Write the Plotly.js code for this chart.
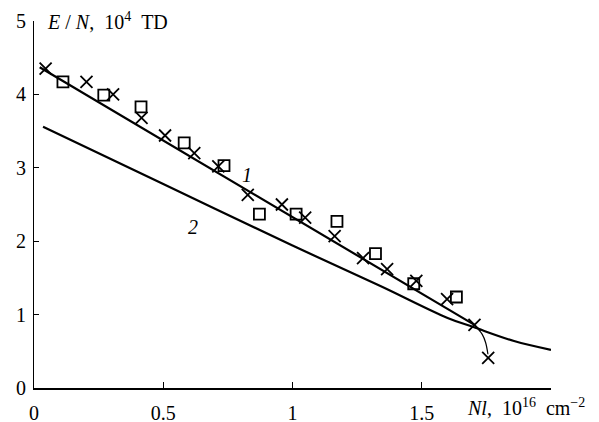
<!DOCTYPE html>
<html>
<head>
<meta charset="utf-8">
<script src="https://cdn.plot.ly/plotly-3.0.1.min.js"></script>
<style>html,body{margin:0;padding:0;background:#fff;}#chart{width:599px;height:422px;}</style>
</head>
<body>
<div id="chart"></div>
<script>
// Crosses (series x)
const crossX = [0.045, 0.203, 0.306, 0.416, 0.507, 0.620, 0.713, 0.827, 0.959, 1.049, 1.163, 1.273, 1.366, 1.479, 1.598, 1.704, 1.757];
const crossY = [4.35, 4.17, 4.00, 3.68, 3.44, 3.20, 3.02, 2.63, 2.50, 2.32, 2.07, 1.77, 1.62, 1.46, 1.21, 0.86, 0.41];
// Squares
const sqX = [0.112, 0.270, 0.414, 0.581, 0.735, 0.872, 1.014, 1.172, 1.321, 1.469, 1.634];
const sqY = [4.17, 3.99, 3.83, 3.34, 3.03, 2.37, 2.37, 2.27, 1.83, 1.42, 1.24];
// Curve 1 (main fit)
const line1X = [0.022, 1.704];
const line1Y = [4.37, 0.86];
// Curve 1 tail
const tailX = [1.704, 1.734, 1.747, 1.756];
const tailY = [0.86, 0.73, 0.62, 0.46];
// Curve 2
const line2X = [0.035, 0.5, 1.0, 1.34, 1.6, 1.7, 1.857, 2.0];
const line2Y = [3.56, 2.78, 1.94, 1.39, 0.955, 0.83, 0.64, 0.52];
// Ticks
const xTickVals = [0, 0.5, 1, 1.5, 2];
const xTickText = ["0", "0.5", "1", "1.5", ""];
const yTickVals = [0, 1, 2, 3, 4, 5];
const yTickText = ["0", "1", "2", "3", "4", "5"];

function F(sz) { return {family: "Liberation Serif", size: sz || 20, color: "#000000"}; }
const NB = "\u00a0";

const traces = [
  {x: line1X, y: line1Y, mode: "lines", line: {color: "#000", width: 2.2}, hoverinfo: "skip"},
  {x: tailX, y: tailY, mode: "lines", line: {color: "#000", width: 1.2, shape: "spline"}, hoverinfo: "skip"},
  {x: line2X, y: line2Y, mode: "lines", line: {color: "#000", width: 2.2, shape: "spline", smoothing: 1}, hoverinfo: "skip"},
  {x: crossX, y: crossY, mode: "markers", marker: {symbol: "x-thin-open", size: 12, color: "#000", line: {color: "#000", width: 1.8}}},
  {x: sqX, y: sqY, mode: "markers", marker: {symbol: "square-open", size: 11, color: "#000", line: {color: "#000", width: 1.8}}}
];

const layout = {
  width: 599, height: 422,
  margin: {l: 34, r: 48, t: 21, b: 34},
  showlegend: false,
  paper_bgcolor: "#fff", plot_bgcolor: "#fff",
  font: F(20),
  xaxis: {
    range: [0, 2], tickvals: xTickVals, ticktext: xTickText,
    showgrid: false, zeroline: false, showline: true, linecolor: "#000", linewidth: 1.5,
    ticks: "inside", ticklen: 6, tickwidth: 1, tickcolor: "#000",
    tickfont: F(20), ticklabelstandoff: 6
  },
  yaxis: {
    range: [0, 5], tickvals: yTickVals, ticktext: yTickText,
    showgrid: false, zeroline: false, showline: true, linecolor: "#000", linewidth: 1,
    ticks: "inside", ticklen: 5, tickwidth: 1, tickcolor: "#000",
    tickfont: F(20), ticklabelstandoff: 3
  },
  annotations: [
    {xref: "paper", yref: "paper", x: 0.021, y: 1.0, xanchor: "left", yanchor: "middle",
     text: "<i>E</i>" + NB + "/" + NB + "<i>N</i>," + NB + NB + "10<sup>4</sup>" + NB + NB + "TD", showarrow: false, font: F(20)},
    {xref: "paper", yref: "paper", x: 1.07, y: -0.052, xanchor: "right", yanchor: "middle",
     text: "<i>Nl</i>," + NB + NB + "10<sup>16</sup>" + NB + NB + "cm<sup>−2</sup>", showarrow: false, font: F(20)},
    {xref: "x", yref: "y", x: 0.825, y: 2.9, text: "<i>1</i>", showarrow: false, font: F(20)},
    {xref: "x", yref: "y", x: 0.617, y: 2.2, text: "<i>2</i>", showarrow: false, font: F(20)}
  ]
};

Plotly.newPlot("chart", traces, layout, {displayModeBar: false, staticPlot: true});
</script>
</body>
</html>
